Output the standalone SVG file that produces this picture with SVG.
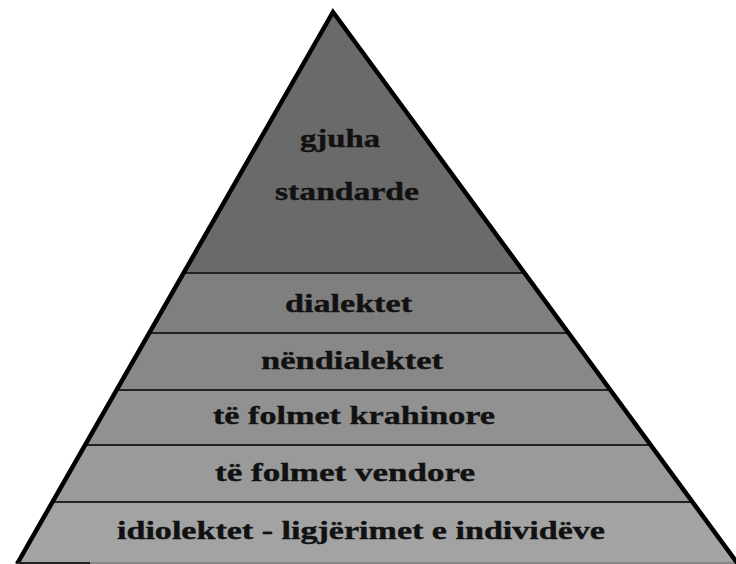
<svg xmlns="http://www.w3.org/2000/svg" width="736" height="564" viewBox="0 0 736 564">
<style>
.t{font-family:"Liberation Serif","Times New Roman",serif;font-weight:bold;font-size:25px;fill:#111;stroke:#111;stroke-width:0.4;text-anchor:middle}
.sep{stroke:#222;stroke-width:2;fill:none}
</style>
<rect width="736" height="564" fill="#fff"/>
<g id="layers">
<g id="top"><polygon points="333,12 183.6,273 524.6,273" fill="#6a6a6a"/></g>
<g id="band1"><polygon points="183.6,273 149.2,333 568.6,333 524.6,273" fill="#7f7f7f"/></g>
<g id="band2"><polygon points="149.2,333 116.6,390 610.5,390 568.6,333" fill="#888888"/></g>
<g id="band3"><polygon points="116.6,390 85.1,445 650.8,445 610.5,390" fill="#919191"/></g>
<g id="band4"><polygon points="85.1,445 52.5,502 692.7,502 650.8,445" fill="#9a9a9a"/></g>
<g id="band5"><polygon points="52.5,502 17,564 738,564 692.7,502" fill="#a3a3a3"/></g>
</g>
<g id="connectors">
<line class="sep" x1="183.6" y1="273" x2="524.6" y2="273"/>
<line class="sep" x1="149.2" y1="333" x2="568.6" y2="333"/>
<line class="sep" x1="116.6" y1="390" x2="610.5" y2="390"/>
<line class="sep" x1="85.1" y1="445" x2="650.8" y2="445"/>
<line class="sep" x1="52.5" y1="502" x2="692.7" y2="502"/>
<polyline points="17,564 333,12 738,564" fill="none" stroke="#000" stroke-width="4.5" stroke-linejoin="miter"/>
<line x1="17" y1="563" x2="90" y2="563" stroke="#222" stroke-width="2"/>
<line x1="90" y1="563" x2="734" y2="563" stroke="#888" stroke-width="2"/>
</g>
<g id="labels">
<text class="t" x="340" y="147" textLength="80" lengthAdjust="spacingAndGlyphs">gjuha</text>
<text class="t" x="347" y="200" textLength="144" lengthAdjust="spacingAndGlyphs">standarde</text>
<text class="t" x="348.5" y="312" textLength="127" lengthAdjust="spacingAndGlyphs">dialektet</text>
<text class="t" x="352" y="369" textLength="182" lengthAdjust="spacingAndGlyphs">nëndialektet</text>
<text class="t" x="354" y="424" textLength="282" lengthAdjust="spacingAndGlyphs">të folmet krahinore</text>
<text class="t" x="345" y="481" textLength="260" lengthAdjust="spacingAndGlyphs">të folmet vendore</text>
<text class="t" x="361" y="539" textLength="488" lengthAdjust="spacingAndGlyphs">idiolektet - ligjërimet e individëve</text>
</g>
</svg>
